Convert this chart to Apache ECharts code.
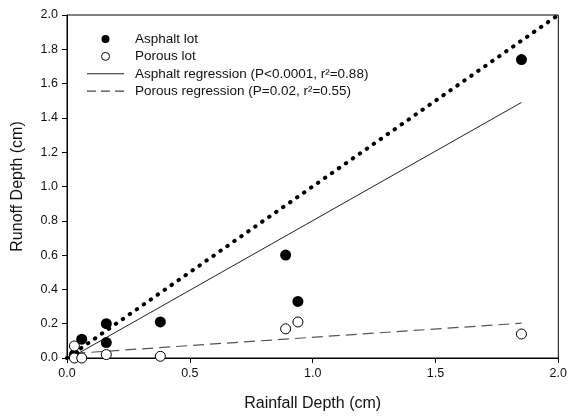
<!DOCTYPE html>
<html><head><meta charset="utf-8">
<script src="https://cdn.jsdelivr.net/npm/echarts@6/dist/echarts.min.js"></script>
<style>html,body{margin:0;padding:0;background:#fff}#c{width:570px;height:417px}</style>
</head><body><div id="c"></div>
<script>
const asphaltX = [0.03, 0.06, 0.16, 0.16, 0.38, 0.89, 0.94, 1.85];
const asphaltY = [0.02, 0.11, 0.20, 0.09, 0.21, 0.60, 0.33, 1.74];
const porousX = [0.03, 0.03, 0.06, 0.16, 0.38, 0.89, 0.94, 1.85];
const porousY = [0.07, 0.00, 0.00, 0.02, 0.01, 0.17, 0.21, 0.14];
const asphaltRegX = [0.03, 1.85];
const asphaltRegY = [0.014, 1.49];
const porousRegX = [0.03, 1.85];
const porousRegY = [0.027, 0.203];
const oneToOneX = [0, 2];
const oneToOneY = [0, 2];
const names = ['Asphalt lot', 'Porous lot', 'Asphalt regression (P<0.0001, r²=0.88)', 'Porous regression (P=0.02, r²=0.55)'];

const zip = (a, b) => a.map((v, i) => [v, b[i]]);
const font = 'Liberation Sans, Arial, sans-serif';
// legend icons: tiny corner specks fix the icon box (37x8) so the bar stays thin
const solidIcon = 'path://M0,0h0.01v0.01h-0.01z M36.99,7.99h0.01v0.01h-0.01z M0,3.5h37v1h-37z';
const dashIcon = 'path://M0,0h0.01v0.01h-0.01z M36.99,7.99h0.01v0.01h-0.01z M0,3.4h9v1.2h-9z M14,3.4h9v1.2h-9z M28,3.4h9v1.2h-9z';
const chart = echarts.init(document.getElementById('c'));
chart.setOption({
  animation: false,
  backgroundColor: '#fff',
  grid: { left: 67, right: 9, top: 15, bottom: 58, show: true, borderColor: '#000', borderWidth: 1 },
  legend: {
    data: [
      { name: names[0], icon: 'circle', itemStyle: { color: '#000' } },
      { name: names[1], icon: 'circle', itemStyle: { color: '#fff', borderColor: '#000', borderWidth: 1 } },
      { name: names[2], icon: solidIcon, itemStyle: { color: '#222', borderWidth: 0 } },
      { name: names[3], icon: dashIcon, itemStyle: { color: '#444', borderWidth: 0 } }
    ],
    orient: 'vertical', left: 82, top: 27,
    itemWidth: 37, itemHeight: 8, itemGap: 3.4,
    textStyle: { fontFamily: font, fontSize: 13.5, lineHeight: 14, color: '#111', padding: [0, 0, 0, 6] }
  },
  xAxis: {
    type: 'value', min: 0, max: 2, interval: 0.5,
    name: 'Rainfall Depth (cm)', nameLocation: 'middle', nameGap: 38,
    nameTextStyle: { fontFamily: font, fontSize: 16, color: '#111' },
    axisLine: { lineStyle: { color: '#000', width: 1 } },
    axisTick: { show: true, length: 5, lineStyle: { color: '#000' } },
    axisLabel: { fontFamily: font, fontSize: 12.5, color: '#111', margin: 9, formatter: v => v.toFixed(1) },
    splitLine: { show: false }
  },
  yAxis: {
    type: 'value', min: 0, max: 2, interval: 0.2,
    name: 'Runoff Depth (cm)', nameLocation: 'middle', nameGap: 41,
    nameTextStyle: { fontFamily: font, fontSize: 16, color: '#111' },
    axisLine: { lineStyle: { color: '#000', width: 1 } },
    axisTick: { show: true, length: 5, lineStyle: { color: '#000' } },
    axisLabel: { fontFamily: font, fontSize: 12.5, color: '#111', margin: 9, formatter: v => v.toFixed(1) },
    splitLine: { show: false }
  },
  series: [
    { name: '1:1', type: 'line', data: zip(oneToOneX, oneToOneY), symbol: 'none', silent: true,
      lineStyle: { color: '#000', width: 4, type: [0.5, 8], cap: 'round' }, z: 1 },
    { name: names[2], type: 'line', data: zip(asphaltRegX, asphaltRegY), symbol: 'none',
      itemStyle: { color: '#222' },
      lineStyle: { color: '#222', width: 1 }, z: 2 },
    { name: names[3], type: 'line', data: zip(porousRegX, porousRegY), symbol: 'none',
      itemStyle: { color: '#444' },
      lineStyle: { color: '#555', width: 1.2, type: [11, 6] }, z: 2 },
    { name: names[0], type: 'scatter', data: zip(asphaltX, asphaltY), symbol: 'circle', symbolSize: 11,
      itemStyle: { color: '#000', opacity: 1 }, z: 3 },
    { name: names[1], type: 'scatter', data: zip(porousX, porousY), symbol: 'circle', symbolSize: 10,
      itemStyle: { color: '#fff', borderColor: '#000', borderWidth: 1, opacity: 1 }, z: 4 }
  ]
});
</script></body></html>
